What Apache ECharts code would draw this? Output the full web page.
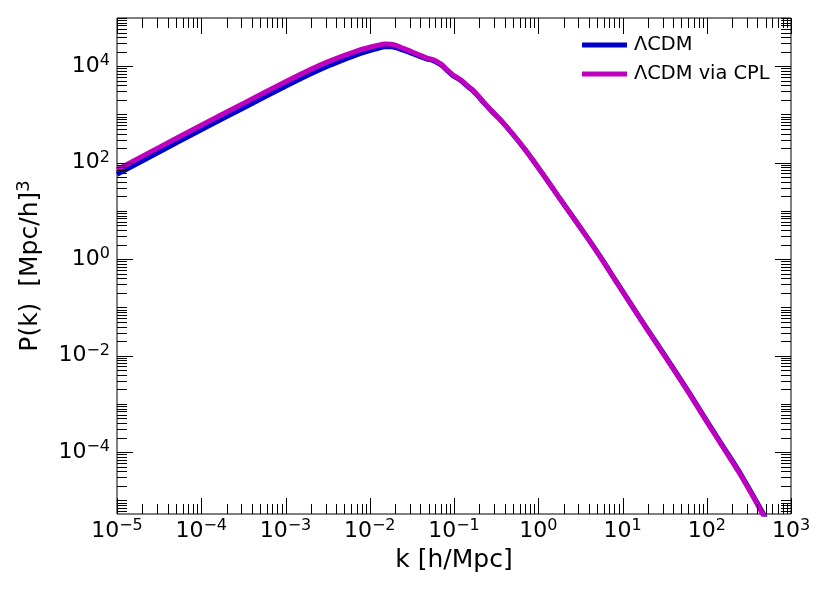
<!DOCTYPE html>
<html>
<head>
<meta charset="utf-8">
<script src="https://cdn.jsdelivr.net/npm/echarts@6/dist/echarts.min.js"></script>
<style>
html, body { margin: 0; padding: 0; background: #fff; }
#chart { width: 830px; height: 593px; }
</style>
</head>
<body>
<div id="chart"></div>
<script>
// k [h/Mpc]
var K = [1e-5, 3.162e-5, 1e-4, 3.162e-4, 1e-3, 2.0e-3, 3.162e-3, 5.012e-3, 7.079e-3, 0.01,
  0.01259, 0.01514, 0.01778, 0.02089, 0.02512, 0.03162, 0.03981, 0.04786, 0.05495, 0.06310,
  0.07244, 0.08318, 0.09550, 0.1096, 0.1259, 0.1445, 0.1660, 0.1905, 0.2239, 0.2818,
  0.3548, 0.5012, 0.7079, 0.8913, 1.259, 1.778, 2.512, 3.162, 3.981, 5.623,
  7.943, 10, 15.85, 25.12, 39.81, 63.10, 100, 158.5, 251.2, 398.1, 501.2];
// P(k) [Mpc/h]^3
var P_LCDM = [57.5, 167.1, 479.7, 1365, 3819, 6950, 10000, 13800, 17380, 21040,
  23550, 25350, 25290, 23990, 21480, 18540, 15780, 14060, 13340, 11940,
  10190, 8110, 6531, 5636, 4753, 3828, 3155, 2455, 1782, 1153,
  770.0, 384.6, 180.7, 104.5, 44.8, 18.7, 8.0, 4.51, 2.54, 1.038,
  0.405, 0.218, 0.0631, 0.0187, 5.55e-3, 1.61e-3, 4.45e-4, 1.26e-4, 3.56e-5, 8.79e-6, 4.22e-6];
var P_CPL = [71.6, 208.0, 597, 1698, 4753, 8610, 12300, 16790, 20890, 24720,
  27230, 28970, 28510, 26610, 23440, 19950, 16790, 14790, 13960, 12450,
  10590, 8414, 6761, 5821, 4898, 3936, 3236, 2512, 1820, 1175,
  782, 389, 182, 104.7, 44.7, 18.6, 7.94, 4.47, 2.51, 1.023,
  0.398, 0.214, 0.0617, 0.0182, 5.37e-3, 1.55e-3, 4.27e-4, 1.20e-4, 3.39e-5, 8.32e-6, 3.98e-6];
var NAMES = ['\u039bCDM', '\u039bCDM via CPL'];
var COLORS = ['#0000cd', '#bf00bf'];
// labelled ticks
var X_LABELS = [1e-5, 1e-4, 1e-3, 1e-2, 1e-1, 1, 10, 100, 1000];
var Y_LABELS = [1e-4, 1e-2, 1, 100, 10000];

var X_MIN = 1e-5, X_MAX = 1e3;
var Y_MIN = 5.2e-6, Y_MAX = 1e5;
var FONT = 'DejaVu Sans';

function pairs(xs, ys) {
  var out = [];
  for (var i = 0; i < xs.length; i++) out.push([xs[i], ys[i]]);
  return out;
}

// log ticks: decades and 2..9 subs, [value, length, axis]
var ticks = [];
for (var d = -5; d <= 3; d++) {
  ticks.push([Math.pow(10, d), 16, 0]);
  if (d < 3) for (var m = 2; m <= 9; m++) ticks.push([m * Math.pow(10, d), 10, 0]);
}
for (var d = -6; d <= 5; d++) {
  for (var m = 1; m <= 9; m++) {
    var v = m * Math.pow(10, d);
    if (v < Y_MIN || v > Y_MAX) continue;
    ticks.push([v, (m === 1 && d % 2 === 0) ? 16 : 10, 1]);
  }
}

function logLabel(v) {
  var e = Math.round(Math.log10(v));
  return '{b|10}{s|' + (e < 0 ? '\u2212' + (-e) : '' + e) + '}';
}
var labelRich = {
  b: { fontSize: 22, fontFamily: FONT, color: '#000', lineHeight: 26 },
  s: { fontSize: 16, fontFamily: FONT, color: '#000', lineHeight: 14, verticalAlign: 'top' }
};

function renderTick(params, api) {
  var cs = params.coordSys;
  var v = api.value(0), len = api.value(1), axis = api.value(2);
  var st = { stroke: '#000', lineWidth: 1 };
  if (axis === 0) {
    var x = Math.round(api.coord([v, Y_MIN])[0]) + 0.5;
    var b = cs.y + cs.height, t = cs.y;
    return { type: 'group', children: [
      { type: 'line', shape: { x1: x, y1: b, x2: x, y2: b - len }, style: st },
      { type: 'line', shape: { x1: x, y1: t, x2: x, y2: t + len }, style: st }
    ] };
  }
  var y = Math.round(api.coord([X_MIN, v])[1]) + 0.5;
  var l = cs.x, r = cs.x + cs.width;
  return { type: 'group', children: [
    { type: 'line', shape: { x1: l, y1: y, x2: l + len, y2: y }, style: st },
    { type: 'line', shape: { x1: r, y1: y, x2: r - len, y2: y }, style: st }
  ] };
}

var chart = echarts.init(document.getElementById('chart'));
chart.setOption({
  animation: false,
  backgroundColor: '#fff',
  grid: { left: 117, right: 39, top: 18, bottom: 79, show: true, borderColor: '#000', borderWidth: 1, outerBoundsMode: 'none' },
  legend: {
    orient: 'vertical', left: 577, top: 30,
    itemWidth: 45, itemHeight: 5, itemGap: 9, icon: 'rect',
    textStyle: { fontSize: 19.4, fontFamily: FONT, color: '#000', lineHeight: 20, padding: [0, 0, 0, 2] },
    data: NAMES
  },
  xAxis: {
    type: 'log', logBase: 10, min: X_MIN, max: X_MAX,
    name: 'k [h/Mpc]', nameLocation: 'middle', nameGap: 34, nameMoveOverlap: false,
    nameTextStyle: { fontSize: 25, fontFamily: FONT, color: '#000' },
    axisLine: { show: false }, axisTick: { show: false }, splitLine: { show: false },
    axisLabel: { margin: 4, customValues: X_LABELS, formatter: logLabel, rich: labelRich }
  },
  yAxis: {
    type: 'log', logBase: 10, min: Y_MIN, max: Y_MAX,
    name: '{t|P(k)  [Mpc/h]}{s|3}', nameLocation: 'middle', nameGap: 72, nameRotate: 90, nameMoveOverlap: false,
    nameTextStyle: { rich: {
      t: { fontSize: 25, fontFamily: FONT, color: '#000', lineHeight: 30 },
      s: { fontSize: 18, fontFamily: FONT, color: '#000', lineHeight: 16, verticalAlign: 'top' }
    } },
    axisLine: { show: false }, axisTick: { show: false }, splitLine: { show: false },
    axisLabel: { margin: 7, customValues: Y_LABELS, formatter: logLabel, rich: labelRich }
  },
  series: [
    { name: NAMES[0], type: 'line', data: pairs(K, P_LCDM), showSymbol: false, symbol: 'none',
      smooth: 0.25, color: COLORS[0], lineStyle: { width: 5, color: COLORS[0] } },
    { name: NAMES[1], type: 'line', data: pairs(K, P_CPL), showSymbol: false, symbol: 'none',
      smooth: 0.25, color: COLORS[1], lineStyle: { width: 5, color: COLORS[1] } },
    { type: 'custom', renderItem: renderTick, data: ticks, silent: true, z: 5,
      encode: { x: 0, y: 1 } }
  ]
});
</script>
</body>
</html>
